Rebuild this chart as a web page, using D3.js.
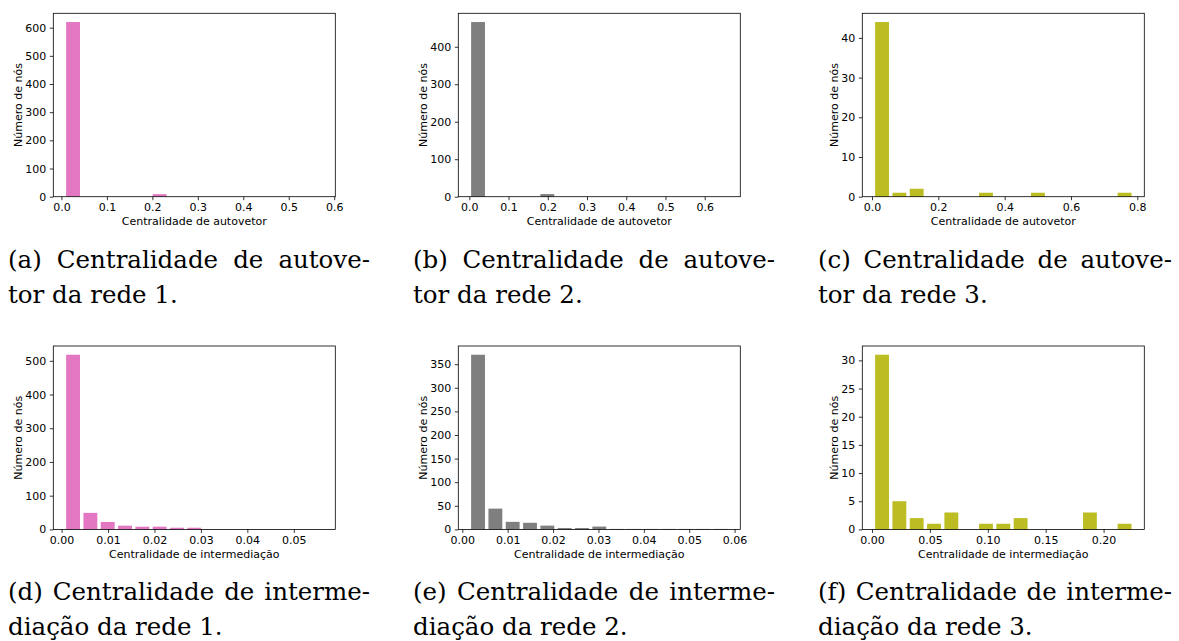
<!DOCTYPE html>
<html>
<head>
<meta charset="utf-8">
<script src="https://cdn.jsdelivr.net/npm/d3@7"></script>
<style>
  body { margin: 0; background: #fff; }
  svg text { font-family: "DejaVu Sans", sans-serif; }
  text.cap { font-family: "DejaVu Serif", serif; }
</style>
</head>
<body>
<svg id="fig" width="1179" height="641"></svg>
<script>
// Histograms: 15 equal bins per panel, [first bin edge, bin width], then the count in each bin.
const eigenBins1 = [0.0065, 0.0381];
const eigenCounts1 = [620, 0, 0, 0, 0, 9, 0, 0, 0, 0, 0, 0, 0, 0, 0];
const eigenBins2 = [0.0002, 0.04415];
const eigenCounts2 = [466, 0, 0, 0, 7, 0, 0, 0, 0, 0, 0, 0, 0, 0, 0];
const eigenBins3 = [0.0042, 0.05223];
const eigenCounts3 = [44, 1, 2, 0, 0, 0, 1, 0, 0, 1, 0, 0, 0, 0, 1];

const betwBins1 = [0.0006, 0.00373];
const betwCounts1 = [518, 49, 22, 11, 8, 8, 5, 5, 0, 0, 0, 0, 0, 0, 0];
const betwBins2 = [0.00156, 0.003817];
const betwCounts2 = [370, 44, 16, 14, 8, 3, 3, 6, 1, 1, 1, 1, 1, 1, 1];
const betwBins3 = [0.00118, 0.01496];
const betwCounts3 = [31, 5, 2, 1, 3, 0, 1, 1, 2, 0, 0, 0, 3, 0, 1];

// Tick values
const eigenXTicks1 = [0, 0.1, 0.2, 0.3, 0.4, 0.5, 0.6];
const eigenXTicks2 = [0, 0.1, 0.2, 0.3, 0.4, 0.5, 0.6];
const eigenXTicks3 = [0, 0.2, 0.4, 0.6, 0.8];
const betwXTicks1 = [0, 0.01, 0.02, 0.03, 0.04, 0.05];
const betwXTicks2 = [0, 0.01, 0.02, 0.03, 0.04, 0.05, 0.06];
const betwXTicks3 = [0, 0.05, 0.10, 0.15, 0.20];
const eigenYTicks1 = [0, 100, 200, 300, 400, 500, 600];
const eigenYTicks2 = [0, 100, 200, 300, 400];
const eigenYTicks3 = [0, 10, 20, 30, 40];
const betwYTicks1 = [0, 100, 200, 300, 400, 500];
const betwYTicks2 = [0, 50, 100, 150, 200, 250, 300, 350];
const betwYTicks3 = [0, 5, 10, 15, 20, 25, 30];

// Axis titles and sub-captions
const xTitleEigen = "Centralidade de autovetor";
const xTitleBetw = "Centralidade de intermediação";
const yTitle = "Número de nós";
const captionsEigen = [
  ["(a) Centralidade de autove-", "tor da rede 1."],
  ["(b) Centralidade de autove-", "tor da rede 2."],
  ["(c) Centralidade de autove-", "tor da rede 3."]
];
const captionsBetw = [
  ["(d) Centralidade de interme-", "diação da rede 1."],
  ["(e) Centralidade de interme-", "diação da rede 2."],
  ["(f) Centralidade de interme-", "diação da rede 3."]
];

const networkColors = ["#e377c2", "#7f7f7f", "#bcbd22"];

const svg = d3.select("#fig");
svg.append("rect").attr("width", 1179).attr("height", 641).attr("fill", "#fff");

const colLeft = [53.3, 458.3, 862.3];
const rowTop = [13.3, 346];
const plotW = 282, plotH = 183.4;
const capX = [8, 413, 818];
const capW = [362, 362, 354];
const FS = 11;        // axis text size
const CAP_FS = 24.5;  // caption text size

const panels = [
  { row: 0, col: 0, bins: eigenBins1, counts: eigenCounts1, xt: eigenXTicks1, yt: eigenYTicks1, fmt: ".1f", xTitle: xTitleEigen, cap: captionsEigen[0] },
  { row: 0, col: 1, bins: eigenBins2, counts: eigenCounts2, xt: eigenXTicks2, yt: eigenYTicks2, fmt: ".1f", xTitle: xTitleEigen, cap: captionsEigen[1] },
  { row: 0, col: 2, bins: eigenBins3, counts: eigenCounts3, xt: eigenXTicks3, yt: eigenYTicks3, fmt: ".1f", xTitle: xTitleEigen, cap: captionsEigen[2] },
  { row: 1, col: 0, bins: betwBins1, counts: betwCounts1, xt: betwXTicks1, yt: betwYTicks1, fmt: ".2f", xTitle: xTitleBetw, cap: captionsBetw[0] },
  { row: 1, col: 1, bins: betwBins2, counts: betwCounts2, xt: betwXTicks2, yt: betwYTicks2, fmt: ".2f", xTitle: xTitleBetw, cap: captionsBetw[1] },
  { row: 1, col: 2, bins: betwBins3, counts: betwCounts3, xt: betwXTicks3, yt: betwYTicks3, fmt: ".2f", xTitle: xTitleBetw, cap: captionsBetw[2] }
];

const RW = 0.8; // bar width relative to bin width

panels.forEach(p => {
  const x0 = colLeft[p.col], y0 = rowTop[p.row];
  const g = svg.append("g").attr("transform", `translate(${x0},${y0})`);
  const [start, w] = p.bins;
  const n = p.counts.length;
  const lo = start + (1 - RW) / 2 * w;
  const hi = start + (n - (1 - RW) / 2) * w;
  const span = hi - lo;
  const x = d3.scaleLinear().domain([lo - 0.05 * span, hi + 0.05 * span]).range([0, plotW]);
  const y = d3.scaleLinear().domain([0, d3.max(p.counts) * 1.05]).range([plotH, 0]);
  const color = networkColors[p.col];

  g.selectAll("rect.bar").data(p.counts).join("rect")
    .attr("class", "bar")
    .attr("x", (d, i) => x(start + i * w + (1 - RW) / 2 * w))
    .attr("width", (d, i) => x(start + i * w + (1 + RW) / 2 * w) - x(start + i * w + (1 - RW) / 2 * w))
    .attr("y", d => y(d))
    .attr("height", d => plotH - y(d))
    .attr("fill", color);

  const xa = g.append("g").attr("transform", `translate(0,${plotH})`)
    .call(d3.axisBottom(x).tickValues(p.xt).tickFormat(d3.format(p.fmt)).tickSize(3.5).tickPadding(3.2));
  const ya = g.append("g")
    .call(d3.axisLeft(y).tickValues(p.yt).tickFormat(d3.format("d")).tickSize(3.5).tickPadding(3.5));
  [xa, ya].forEach(a => {
    a.select(".domain").remove();
    a.selectAll("line").attr("stroke", "#000").attr("stroke-width", 0.8);
    a.selectAll("text").attr("font-size", FS).attr("fill", "#000")
      .attr("font-family", "DejaVu Sans, sans-serif");
  });

  g.append("rect").attr("width", plotW).attr("height", plotH)
    .attr("fill", "none").attr("stroke", "#000").attr("stroke-width", 0.8);

  g.append("text").attr("x", plotW / 2).attr("y", plotH + 28.6)
    .attr("text-anchor", "middle").attr("font-size", FS).attr("fill", "#000")
    .text(p.xTitle);

  let tickW = 0;
  ya.selectAll("text").each(function () { tickW = Math.max(tickW, this.getComputedTextLength()); });
  const labelRight = -7 - tickW - 3;
  g.append("text")
    .attr("transform", `translate(${labelRight},${plotH / 2}) rotate(-90)`)
    .attr("text-anchor", "middle").attr("font-size", FS).attr("fill", "#000")
    .text(yTitle);

  // sub-caption: first line justified across the column, second line flush left
  const cx = capX[p.col];
  const base1 = p.row === 0 ? 268 : 600;
  const words = p.cap[0].split(" ");
  const capG = svg.append("g");
  const wEls = words.map(wd => capG.append("text").attr("class", "cap")
    .attr("font-size", CAP_FS).attr("fill", "#000").attr("y", base1).text(wd));
  const widths = wEls.map(t => t.node().getComputedTextLength());
  const gap = (capW[p.col] - d3.sum(widths)) / (words.length - 1);
  let cur = cx;
  wEls.forEach((t, i) => { t.attr("x", cur); cur += widths[i] + gap; });
  capG.append("text").attr("class", "cap").attr("font-size", CAP_FS).attr("fill", "#000")
    .attr("x", cx).attr("y", base1 + 35).text(p.cap[1]);
});
</script>
</body>
</html>
